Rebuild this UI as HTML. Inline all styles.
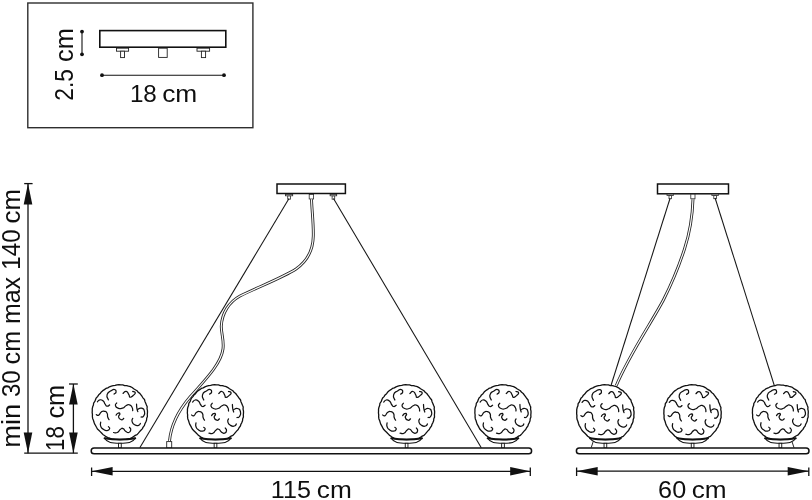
<!DOCTYPE html>
<html><head><meta charset="utf-8"><title>Lamp dimensions</title>
<style>
html,body{margin:0;padding:0;background:#fff;}
body{width:812px;height:500px;overflow:hidden;font-family:"Liberation Sans",sans-serif;}
svg{display:block;}
text{font-family:"Liberation Sans",sans-serif;fill:#0d0d0d;}
</style></head><body>
<svg width="812" height="500" viewBox="0 0 812 500">
<defs>
<g id="g">
<path d="M27.99 0.00 L27.81 1.94 L27.92 3.92 L27.22 5.79 L27.03 7.75 L26.32 9.58 L25.41 11.31 L24.82 13.19 L23.58 14.73 L22.70 16.49 L21.31 17.89 L20.03 19.34 L18.77 20.85 L17.43 22.31 L15.58 23.10 L13.96 24.18 L12.35 25.33 L10.63 26.32 L8.70 26.77 L6.78 27.20 L4.93 27.97 L2.91 27.66 L0.99 28.31 L-0.98 27.95 L-2.91 27.72 L-4.84 27.43 L-6.77 27.15 L-8.75 26.92 L-10.45 25.86 L-12.34 25.30 L-14.09 24.41 L-15.67 23.23 L-17.32 22.17 L-18.62 20.67 L-20.01 19.32 L-21.38 17.94 L-22.83 16.58 L-23.79 14.87 L-24.71 13.14 L-25.72 11.45 L-26.38 9.60 L-26.89 7.71 L-27.67 5.88 L-27.95 3.93 L-27.87 1.95 L-28.15 0.00 L-28.05 -1.96 L-28.06 -3.94 L-27.63 -5.87 L-26.88 -7.71 L-26.69 -9.72 L-25.45 -11.33 L-24.76 -13.17 L-23.97 -14.98 L-22.55 -16.39 L-21.52 -18.06 L-20.00 -19.32 L-18.87 -20.96 L-17.40 -22.28 L-15.74 -23.33 L-14.17 -24.54 L-12.27 -25.15 L-10.57 -26.17 L-8.70 -26.78 L-6.81 -27.31 L-4.87 -27.65 L-2.96 -28.16 L-0.99 -28.37 L0.98 -28.07 L2.95 -28.05 L4.83 -27.40 L6.83 -27.39 L8.71 -26.81 L10.64 -26.35 L12.41 -25.44 L13.98 -24.22 L15.67 -23.24 L17.37 -22.23 L18.60 -20.66 L20.20 -19.50 L21.36 -17.93 L22.54 -16.37 L23.59 -14.74 L24.96 -13.27 L25.45 -11.33 L26.25 -9.56 L26.94 -7.73 L27.72 -5.89 L27.56 -3.87 L28.00 -1.96Z" fill="#fff" stroke="#111" stroke-width="1.3" stroke-linejoin="round"/>
<path d="M-11.70 -13.00 C-12.13 -14.73 -13.87 -15.17 -13.00 -18.20 C-12.13 -21.23 -11.70 -20.37 -9.10 -22.10 C-6.50 -23.83 -6.93 -23.83 -5.20 -23.40 C-3.47 -22.97 -3.67 -22.30 -3.90 -20.80 C-4.13 -19.30 -5.23 -19.53 -5.90 -18.90 M3.25 -19.50 C4.33 -20.17 4.55 -21.93 6.50 -21.50 C8.45 -21.07 7.80 -20.17 9.10 -18.20 C10.40 -16.23 8.87 -15.80 10.40 -15.60 C11.93 -15.40 11.97 -16.07 13.70 -17.60 C15.43 -19.13 15.83 -18.90 15.60 -20.20 C15.37 -21.50 13.87 -21.07 13.00 -21.50 M-22.80 -11.00 C-21.93 -11.67 -22.17 -12.77 -20.20 -13.00 C-18.23 -13.23 -18.63 -13.20 -16.90 -11.70 C-15.17 -10.20 -16.30 -10.23 -15.00 -8.50 C-13.70 -6.77 -14.53 -6.73 -13.00 -6.50 C-11.47 -6.27 -11.27 -7.37 -10.40 -7.80 M-3.25 -9.75 C-3.67 -8.90 -4.93 -8.95 -4.50 -7.20 C-4.07 -5.45 -4.32 -5.40 -1.95 -4.50 C0.42 -3.60 -0.22 -3.60 2.60 -4.50 C5.42 -5.40 4.12 -6.10 6.50 -7.20 C8.88 -8.30 7.78 -8.47 9.75 -7.80 C11.72 -7.13 11.32 -7.13 12.40 -5.20 C13.48 -3.27 12.80 -3.07 13.00 -2.00 M16.90 -8.50 C17.03 -7.00 16.87 -6.50 17.30 -4.00 C17.73 -1.50 17.90 -2.00 18.20 -1.00 M18.00 -3.20 C19.33 -3.63 19.67 -5.23 22.00 -4.50 C24.33 -3.77 24.33 -3.67 25.00 -1.00 C25.67 1.67 25.17 1.67 24.00 3.50 C22.83 5.33 22.33 4.17 21.50 4.50 M-24.00 2.00 C-23.17 2.20 -23.20 3.48 -21.50 2.60 C-19.80 1.72 -20.87 0.65 -18.90 -0.65 C-16.93 -1.95 -17.57 -1.73 -15.60 -1.30 C-13.63 -0.87 -14.07 -1.28 -13.00 0.65 C-11.93 2.58 -13.07 2.32 -12.40 4.50 C-11.73 6.68 -11.47 6.30 -11.00 7.20 M-3.90 2.60 C-3.25 1.95 -3.25 1.08 -1.95 0.65 C-0.65 0.22 -0.22 0.02 0.00 1.30 C0.22 2.58 -1.73 2.53 -1.30 4.50 C-0.87 6.47 -0.43 6.75 1.30 7.20 C3.03 7.65 3.03 6.30 3.90 5.85 M13.00 5.85 C12.80 6.93 11.73 6.92 12.40 9.10 C13.07 11.28 12.83 11.10 15.00 12.40 C17.17 13.70 16.97 13.47 18.90 13.00 C20.83 12.53 20.17 11.67 20.80 11.00 M-19.50 9.75 C-19.50 11.07 -20.37 11.32 -19.50 13.70 C-18.63 16.08 -19.07 15.40 -16.90 16.90 C-14.73 18.40 -15.17 18.42 -13.00 18.20 C-10.83 17.98 -10.83 17.55 -10.40 16.25 C-9.97 14.95 -11.27 14.95 -11.70 14.30 M-6.50 20.20 C-5.20 20.20 -4.98 21.30 -2.60 20.20 C-0.22 19.10 -1.30 18.22 0.65 16.90 C2.60 15.58 1.52 15.58 3.25 16.25 C4.98 16.92 3.90 17.58 5.85 18.90 C7.80 20.22 7.38 20.63 9.10 20.20 C10.82 19.77 10.78 19.33 11.00 17.60 C11.22 15.87 10.17 15.87 9.75 15.00" fill="none" stroke="#111" stroke-width="1.25" stroke-linecap="round" stroke-linejoin="round"/>
</g>
</defs>
<rect width="812" height="500" fill="#fff"/>

<rect x="27.8" y="3" width="225.1" height="124.7" fill="none" stroke="#2e2e2e" stroke-width="1.4"/>
<rect x="99.8" y="30.6" width="126" height="16.6" fill="#fff" stroke="#111" stroke-width="1.6"/>
<rect x="116.5" y="48.2" width="12.099999999999994" height="3" fill="#fff" stroke="#222" stroke-width="0.9"/>
<rect x="120.6" y="51.2" width="3.9000000000000057" height="6.4" fill="#fff" stroke="#222" stroke-width="0.9"/>
<rect x="197" y="48.2" width="12.599999999999994" height="3" fill="#fff" stroke="#222" stroke-width="0.9"/>
<rect x="201.4" y="51.2" width="4.199999999999989" height="6.4" fill="#fff" stroke="#222" stroke-width="0.9"/>
<rect x="158.6" y="48.2" width="8.6" height="9.2" fill="#fff" stroke="#222" stroke-width="0.9"/>
<line x1="82" y1="31.6" x2="82" y2="54.3" stroke="#111" stroke-width="1.1"/><circle cx="82" cy="31.6" r="1.9" fill="#111"/><circle cx="82" cy="54.3" r="1.9" fill="#111"/>
<line x1="102" y1="75.2" x2="224" y2="75.2" stroke="#111" stroke-width="1.1"/><circle cx="102" cy="75.2" r="1.9" fill="#111"/><circle cx="224" cy="75.2" r="1.9" fill="#111"/>
<line x1="28" y1="183.6" x2="28" y2="453.2" stroke="#111" stroke-width="1.3"/>
<line x1="24.2" y1="183.6" x2="32.6" y2="183.6" stroke="#111" stroke-width="1.3"/>
<line x1="24.2" y1="453.2" x2="77.8" y2="453.2" stroke="#111" stroke-width="1.3"/>
<path d="M28 183.6 L23.7 204.4 L32.3 204.4Z" fill="#111"/>
<path d="M28 453.2 L23.7 432.4 L32.3 432.4Z" fill="#111"/>
<line x1="73.4" y1="384" x2="73.4" y2="453.2" stroke="#111" stroke-width="1.3"/>
<line x1="69" y1="384" x2="77.8" y2="384" stroke="#111" stroke-width="1.3"/>
<path d="M73.4 384 L69.10000000000001 404.4 L77.7 404.4Z" fill="#111"/>
<path d="M73.4 453.2 L69.10000000000001 432.4 L77.7 432.4Z" fill="#111"/>
<rect x="277" y="184" width="68.4" height="9.5" fill="#fff" stroke="#111" stroke-width="1.5"/>
<rect x="287.70000000000005" y="195.8" width="2.8" height="3.4" fill="#fff" stroke="#2a2a2a" stroke-width="0.8"/><rect x="285.5" y="194.4" width="7.2" height="1.4" fill="#fff" stroke="#2a2a2a" stroke-width="0.8"/>
<rect x="332.09999999999997" y="195.8" width="2.6" height="3.4" fill="#fff" stroke="#2a2a2a" stroke-width="0.8"/><rect x="330.09999999999997" y="194.4" width="6.6" height="1.4" fill="#fff" stroke="#2a2a2a" stroke-width="0.8"/>
<rect x="309.2" y="194.4" width="4.4" height="4.6" fill="#fff" stroke="#2a2a2a" stroke-width="0.8"/>
<line x1="289" y1="198.5" x2="139.8" y2="447.7" stroke="#151515" stroke-width="1.05"/>
<line x1="333.5" y1="198.5" x2="481.3" y2="447.7" stroke="#151515" stroke-width="1.05"/>
<path d="M311.5 199.2 C312 212 313.6 224 313.3 236 C313 252 306 262 296 269 C283 277.5 258 287 240 296 C229 302 222 313 221.3 326 C221 333 224.2 340 223 349 C221 364 205 380 190 397 C178 411 171 425 169.5 441" fill="none" stroke="#262626" stroke-width="2.9"/><path d="M311.5 199.2 C312 212 313.6 224 313.3 236 C313 252 306 262 296 269 C283 277.5 258 287 240 296 C229 302 222 313 221.3 326 C221 333 224.2 340 223 349 C221 364 205 380 190 397 C178 411 171 425 169.5 441" fill="none" stroke="#fff" stroke-width="1.15"/>
<rect x="166.7" y="441.6" width="5" height="6.4" fill="#fff" stroke="#222" stroke-width="0.9"/>
<use href="#g" transform="translate(119.9,412.6) scale(0.985)"/>
<path d="M104.60000000000001 438.3 C107.10000000000001 442.90000000000003 112.25 443.3 119.9 443.3 C127.55000000000001 443.3 132.70000000000002 442.90000000000003 135.20000000000002 438.3 Q119.9 440.90000000000003 104.60000000000001 438.3Z" fill="#fff" stroke="#111" stroke-width="1.1" stroke-linejoin="round"/><path d="M104.60000000000001 438.3 Q119.9 440.90000000000003 135.20000000000002 438.3" fill="none" stroke="#111" stroke-width="2" stroke-linecap="round"/><rect x="118.55000000000001" y="443.3" width="2.7" height="4.70" fill="#fff" stroke="#111" stroke-width="0.9"/>
<use href="#g" transform="translate(215.5,413) scale(1.0)"/>
<path d="M200.2 438.3 C202.7 442.90000000000003 207.85 443.3 215.5 443.3 C223.15 443.3 228.3 442.90000000000003 230.8 438.3 Q215.5 440.90000000000003 200.2 438.3Z" fill="#fff" stroke="#111" stroke-width="1.1" stroke-linejoin="round"/><path d="M200.2 438.3 Q215.5 440.90000000000003 230.8 438.3" fill="none" stroke="#111" stroke-width="2" stroke-linecap="round"/><rect x="214.15" y="443.3" width="2.7" height="4.70" fill="#fff" stroke="#111" stroke-width="0.9"/>
<use href="#g" transform="translate(406.6,413) scale(1.0)"/>
<path d="M391.3 438.3 C393.8 442.90000000000003 398.95000000000005 443.3 406.6 443.3 C414.25 443.3 419.40000000000003 442.90000000000003 421.90000000000003 438.3 Q406.6 440.90000000000003 391.3 438.3Z" fill="#fff" stroke="#111" stroke-width="1.1" stroke-linejoin="round"/><path d="M391.3 438.3 Q406.6 440.90000000000003 421.90000000000003 438.3" fill="none" stroke="#111" stroke-width="2" stroke-linecap="round"/><rect x="405.25" y="443.3" width="2.7" height="4.70" fill="#fff" stroke="#111" stroke-width="0.9"/>
<use href="#g" transform="translate(503,413) scale(1.0)"/>
<path d="M487.7 438.3 C490.2 442.90000000000003 495.35 443.3 503 443.3 C510.65 443.3 515.8 442.90000000000003 518.3 438.3 Q503 440.90000000000003 487.7 438.3Z" fill="#fff" stroke="#111" stroke-width="1.1" stroke-linejoin="round"/><path d="M487.7 438.3 Q503 440.90000000000003 518.3 438.3" fill="none" stroke="#111" stroke-width="2" stroke-linecap="round"/><rect x="501.65" y="443.3" width="2.7" height="4.70" fill="#fff" stroke="#111" stroke-width="0.9"/>
<rect x="91.2" y="448.1" width="440.4" height="5.7" rx="2.85" fill="#fff" stroke="#111" stroke-width="1.5"/>
<line x1="91.6" y1="471.4" x2="530.3" y2="471.4" stroke="#111" stroke-width="1.3"/>
<line x1="91.6" y1="467.5" x2="91.6" y2="476" stroke="#111" stroke-width="1.3"/><line x1="530.3" y1="467.5" x2="530.3" y2="476" stroke="#111" stroke-width="1.3"/>
<path d="M91.6 471.3 L112.6 467.0 L112.6 475.6Z" fill="#111"/>
<path d="M530.3 471.3 L510.2 467.0 L510.2 475.6Z" fill="#111"/>
<rect x="657.5" y="184" width="71" height="9.8" fill="#fff" stroke="#111" stroke-width="1.5"/>
<rect x="669.0" y="195.5" width="2.6" height="3.2" fill="#fff" stroke="#2a2a2a" stroke-width="0.8"/><rect x="667.0" y="194.2" width="6.6" height="1.3" fill="#fff" stroke="#2a2a2a" stroke-width="0.8"/>
<rect x="713.8000000000001" y="195.5" width="2.6" height="3.2" fill="#fff" stroke="#2a2a2a" stroke-width="0.8"/><rect x="711.8000000000001" y="194.2" width="6.6" height="1.3" fill="#fff" stroke="#2a2a2a" stroke-width="0.8"/>
<rect x="690.8" y="194.2" width="4.2" height="4.6" fill="#fff" stroke="#2a2a2a" stroke-width="0.8"/>
<line x1="670" y1="198.5" x2="611" y2="385.5" stroke="#151515" stroke-width="1.05"/>
<line x1="715.1" y1="198" x2="774.3" y2="385.5" stroke="#151515" stroke-width="1.05"/>
<path d="M693 199.2 C692.5 215 690 232 684.5 249 C679 266 671 285 663.4 300 C651.5 322.5 629 355 616.3 385.5" fill="none" stroke="#262626" stroke-width="2.9"/><path d="M693 199.2 C692.5 215 690 232 684.5 249 C679 266 671 285 663.4 300 C651.5 322.5 629 355 616.3 385.5" fill="none" stroke="#fff" stroke-width="1.15"/>
<use href="#g" transform="translate(605.4,413.6) scale(1.022)"/>
<path d="M590.1 438.3 C592.6 442.90000000000003 597.75 443.3 605.4 443.3 C613.05 443.3 618.1999999999999 442.90000000000003 620.6999999999999 438.3 Q605.4 440.90000000000003 590.1 438.3Z" fill="#fff" stroke="#111" stroke-width="1.1" stroke-linejoin="round"/><path d="M590.1 438.3 Q605.4 440.90000000000003 620.6999999999999 438.3" fill="none" stroke="#111" stroke-width="2" stroke-linecap="round"/><rect x="604.05" y="443.3" width="2.7" height="4.70" fill="#fff" stroke="#111" stroke-width="0.9"/>
<use href="#g" transform="translate(692.6,413.6) scale(1.022)"/>
<path d="M677.3000000000001 438.3 C679.8000000000001 442.90000000000003 684.95 443.3 692.6 443.3 C700.25 443.3 705.4 442.90000000000003 707.9 438.3 Q692.6 440.90000000000003 677.3000000000001 438.3Z" fill="#fff" stroke="#111" stroke-width="1.1" stroke-linejoin="round"/><path d="M677.3000000000001 438.3 Q692.6 440.90000000000003 707.9 438.3" fill="none" stroke="#111" stroke-width="2" stroke-linecap="round"/><rect x="691.25" y="443.3" width="2.7" height="4.70" fill="#fff" stroke="#111" stroke-width="0.9"/>
<use href="#g" transform="translate(780.4,413) scale(0.995)"/>
<path d="M765.1 438.3 C767.6 442.90000000000003 772.75 443.3 780.4 443.3 C788.05 443.3 793.1999999999999 442.90000000000003 795.6999999999999 438.3 Q780.4 440.90000000000003 765.1 438.3Z" fill="#fff" stroke="#111" stroke-width="1.1" stroke-linejoin="round"/><path d="M765.1 438.3 Q780.4 440.90000000000003 795.6999999999999 438.3" fill="none" stroke="#111" stroke-width="2" stroke-linecap="round"/><rect x="779.05" y="443.3" width="2.7" height="4.70" fill="#fff" stroke="#111" stroke-width="0.9"/>
<path d="M593.2 441.6 L591.2 447.7 M792 441.6 L794 447.7" stroke="#111" stroke-width="0.9" fill="none"/>
<rect x="576.4" y="448.1" width="232.6" height="5.7" rx="2.85" fill="#fff" stroke="#111" stroke-width="1.5"/>
<line x1="576.6" y1="471.2" x2="808.8" y2="471.2" stroke="#111" stroke-width="1.3"/>
<line x1="576.6" y1="467.5" x2="576.6" y2="476" stroke="#111" stroke-width="1.3"/><line x1="808.8" y1="467.5" x2="808.8" y2="476" stroke="#111" stroke-width="1.3"/>
<path d="M576.6 471.2 L597.7 466.9 L597.7 475.5Z" fill="#111"/>
<path d="M808.8 471.2 L787.7 466.9 L787.7 475.5Z" fill="#111"/>
<g opacity="0.99">
<text x="129.90" y="102.1" font-size="24.5" textLength="26.97" lengthAdjust="spacingAndGlyphs">18</text>
<text x="162.15" y="102.1" font-size="24.5" textLength="35.11" lengthAdjust="spacingAndGlyphs">cm</text>
<text transform="translate(73.3,100.73) rotate(-90)" font-size="25" textLength="31.55" lengthAdjust="spacingAndGlyphs">2.5</text>
<text transform="translate(73.3,62.01) rotate(-90)" font-size="25" textLength="33.70" lengthAdjust="spacingAndGlyphs">cm</text>
<text transform="translate(19.6,447.84) rotate(-90)" font-size="25" textLength="43.97" lengthAdjust="spacingAndGlyphs">min</text>
<text transform="translate(19.6,397.12) rotate(-90)" font-size="25" textLength="26.79" lengthAdjust="spacingAndGlyphs">30</text>
<text transform="translate(19.6,364.40) rotate(-90)" font-size="25" textLength="33.49" lengthAdjust="spacingAndGlyphs">cm</text>
<text transform="translate(19.6,324.09) rotate(-90)" font-size="25" textLength="47.04" lengthAdjust="spacingAndGlyphs">max</text>
<text transform="translate(19.6,269.69) rotate(-90)" font-size="25" textLength="40.37" lengthAdjust="spacingAndGlyphs">140</text>
<text transform="translate(19.6,223.43) rotate(-90)" font-size="25" textLength="34.46" lengthAdjust="spacingAndGlyphs">cm</text>
<text transform="translate(64.1,450.96) rotate(-90)" font-size="25" textLength="24.76" lengthAdjust="spacingAndGlyphs">18</text>
<text transform="translate(64.1,418.61) rotate(-90)" font-size="25" textLength="33.70" lengthAdjust="spacingAndGlyphs">cm</text>
<text x="270.84" y="498" font-size="24.3" textLength="40.07" lengthAdjust="spacingAndGlyphs">115</text>
<text x="316.85" y="498" font-size="24.3" textLength="35.00" lengthAdjust="spacingAndGlyphs">cm</text>
<text x="658.14" y="497.7" font-size="24.3" textLength="28.07" lengthAdjust="spacingAndGlyphs">60</text>
<text x="691.65" y="497.7" font-size="24.3" textLength="34.90" lengthAdjust="spacingAndGlyphs">cm</text>
</g>
</svg></body></html>
